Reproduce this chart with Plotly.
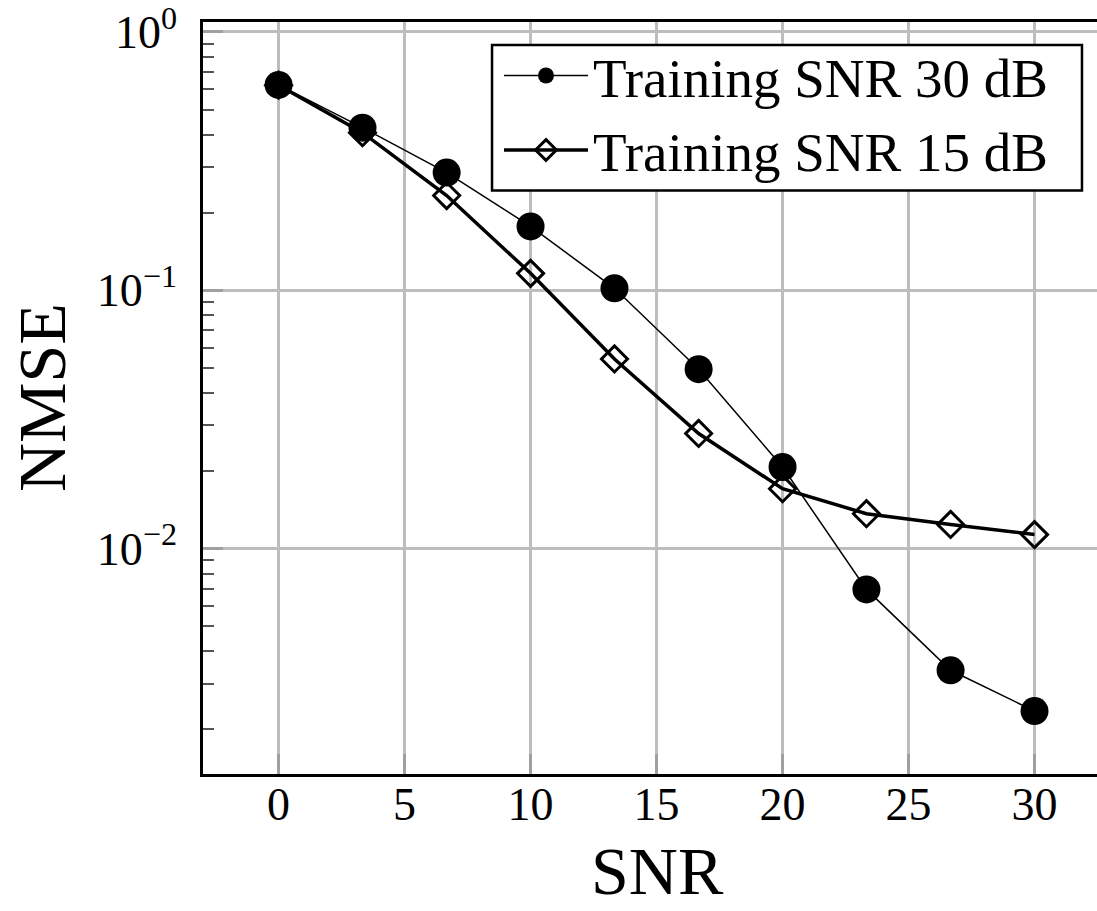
import plotly.graph_objects as go

snr = [0, 3.33, 6.67, 10, 13.33, 16.67, 20, 23.33, 26.67, 30]
nmse_train30 = [0.624, 0.426, 0.2855, 0.1767, 0.1018, 0.0495, 0.0207, 0.00695, 0.00338, 0.00235]
nmse_train15 = [0.622, 0.4074, 0.2327, 0.1163, 0.0542, 0.0279, 0.01705, 0.01365, 0.0124, 0.01133]

x_ticks = [0, 5, 10, 15, 20, 25, 30]
y_ticks = [1, 0.1, 0.01]
y_tick_text = ["10<sup>0</sup>", "10<sup>\u22121</sup>", "10<sup>\u22122</sup>"]
minor_y = [d * 10.0 ** e for e in (-3, -2, -1) for d in range(2, 10)]

FONT = "Liberation Serif"

fig = go.Figure()
fig.add_trace(go.Scatter(
    x=snr, y=nmse_train30, mode="lines+markers", name="Training SNR 30 dB",
    line=dict(color="black", width=1.5),
    marker=dict(symbol="circle", size=28, color="black", line=dict(width=0)),
))
fig.add_trace(go.Scatter(
    x=snr, y=nmse_train15, mode="lines+markers", name="Training SNR 15 dB",
    line=dict(color="black", width=3.5),
    marker=dict(symbol="diamond-open", size=20, color="black", line=dict(width=3, color="black")),
))

# legend frame (box drawn as a shape so it can carry the reference's padding)
fig.add_shape(type="rect", xref="paper", yref="paper",
              x0=0.3233, x1=0.9832, y0=0.7759, y1=0.9695,
              fillcolor="white", line=dict(color="black", width=2.5), layer="above")

fig.update_layout(
    width=1097, height=911,
    margin=dict(l=203, r=0, t=20, b=137),
    paper_bgcolor="white", plot_bgcolor="white",
    font=dict(family=FONT, color="black", size=46),
    showlegend=True,
    legend=dict(
        x=0.3311, y=0.8793, xanchor="left", yanchor="middle",
        bgcolor="rgba(0,0,0,0)", borderwidth=0,
        font=dict(family=FONT, size=55, color="black"),
        itemwidth=84, tracegroupgap=0,
    ),
    xaxis=dict(
        range=[-3, 32.48], tickvals=x_ticks,
        showgrid=True, gridcolor="#bdbdbd", gridwidth=2.5,
        ticks="inside", ticklen=20, tickwidth=2.5, tickcolor="#a0a0a0",
        showline=True, linecolor="black", linewidth=2.5, mirror=True,
        zeroline=False,
        tickfont=dict(family=FONT, size=46),
        ticklabelstandoff=-12,
    ),
    yaxis=dict(
        type="log", range=[-2.8726, 0.0386],
        tickmode="array", tickvals=y_ticks, ticktext=y_tick_text,
        showgrid=True, gridcolor="#bdbdbd", gridwidth=2.5,
        ticks="inside", ticklen=20, tickwidth=2.5, tickcolor="#a0a0a0",
        showline=True, linecolor="black", linewidth=2.5, mirror=False,
        zeroline=False,
        tickfont=dict(family=FONT, size=46),
        ticklabelstandoff=14, ticklabeloverflow="allow",
        minor=dict(tickmode="array", tickvals=minor_y, ticks="inside",
                   ticklen=11, tickwidth=1.5, tickcolor="#555555", showgrid=False),
    ),
    annotations=[
        dict(text="SNR", xref="paper", yref="paper", x=0.508, y=-0.1817,
             xanchor="center", yanchor="bottom", showarrow=False,
             font=dict(family=FONT, size=68, color="black")),
        dict(text="NMSE", xref="paper", yref="paper", x=-0.18, y=0.5,
             xanchor="center", yanchor="middle", showarrow=False, textangle=-90,
             font=dict(family=FONT, size=68, color="black")),
    ],
)

fig.write_html("out.html", config={"displayModeBar": False},
               post_script="document.body.style.margin='0';")
